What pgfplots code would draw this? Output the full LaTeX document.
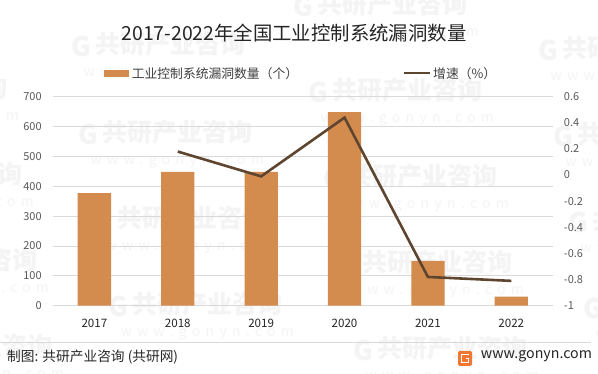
\documentclass[border=0pt]{standalone}
\usepackage{fontspec}
\setmainfont{Noto Sans CJK SC}
\newfontfamily\wmspaced[LetterSpace=38]{Noto Sans CJK SC}
\usepackage{pgfplots}
\pgfplotsset{compat=1.18}
\definecolor{barc}{RGB}{212,139,78}
\definecolor{linec}{RGB}{94,69,48}
\definecolor{gridc}{RGB}{217,217,217}
\definecolor{tickc}{RGB}{89,89,89}
\definecolor{wm}{RGB}{244,244,244}
\definecolor{logoc}{RGB}{240,120,50}
\definecolor{txt}{RGB}{38,38,38}
\begin{document}
\begin{tikzpicture}[x=1pt,y=1pt]
\useasboundingbox (0,0) rectangle (598,374);
\fill[white] (0,0) rectangle (598,374);
% watermarks (positions in px from top-left, converted)
\begin{scope}
\clip (0,0) rectangle (598,374);
\foreach \px/\py in {-78/74, -63/160, -48/246, -33/332,
                     160/30, 167/118, 182/204, 197/290, 212/376,
                     382/-10, 397/76, 412/162, 427/248, 442/334,
                     627/34, 642/120, 657/206, 672/292} {
  \begin{scope}[shift={(\px,374-\py)}, rotate=12]
    \node[text=wm, font=\fontsize{27}{27}\selectfont\bfseries, inner sep=0pt] at (-80,0) {G};
    \node[text=wm, font=\fontsize{25}{25}\selectfont\bfseries, inner sep=0pt, anchor=west] at (-66,0) {共研产业咨询};
    \node[text=wm, font=\fontsize{14}{14}\selectfont\wmspaced, inner sep=0pt, anchor=west] at (-84,-27) {www.gonyn.com};
  \end{scope}
}
\end{scope}
% title
\node[font=\fontsize{19.4}{19.4}\selectfont, text=txt] at (294,340.7) {2017-2022年全国工业控制系统漏洞数量};
% legend
\fill[barc] (104,297.2) rectangle (128.5,304.2);
\node[anchor=west, font=\fontsize{12.8}{12.8}\selectfont, text={rgb,255:red,64;green,64;blue,64}, inner sep=0pt] at (131.6,300.7) {工业控制系统漏洞数量（个）};
\draw[linec, line width=2.4pt] (404,300.7) -- (430,300.7);
\node[anchor=west, font=\fontsize{12.8}{12.8}\selectfont, text={rgb,255:red,64;green,64;blue,64}, inner sep=0pt] at (433,300.7) {增速（\%）};
\begin{axis}[
  at={(52.7pt,68.3pt)}, anchor=south west,
  scale only axis, width=500.3pt, height=209pt,
  xmin=-0.5, xmax=5.5, ymin=0, ymax=700,
  axis line style={draw=none},
  ytick={0,100,...,700},
  xtick={0,...,5},
  xticklabels={2017,2018,2019,2020,2021,2022},
  major tick length=0pt,
  ymajorgrids, grid style={gridc, line width=0.8pt},
  yticklabel style={font=\fontsize{11}{11}\selectfont, text=tickc, anchor=east, xshift=-7.5pt},
  xticklabel style={font=\fontsize{11.6}{11.6}\selectfont, text=txt, yshift=-10pt},
  /pgf/number format/assume math mode=true,
  clip=false,
]
\addplot[ybar, bar width=33.3pt, fill=barc, draw=none] coordinates {(0,377) (1,448) (2,448) (3,648) (4,150) (5,30)};
\end{axis}
\begin{axis}[
  at={(52.7pt,68.3pt)}, anchor=south west,
  scale only axis, width=500.3pt, height=209pt,
  xmin=-0.5, xmax=5.5, ymin=-1, ymax=0.6,
  axis line style={draw=none},
  axis y line*=right,
  xtick=\empty,
  ytick={-1,-0.8,-0.6,-0.4,-0.2,0,0.2,0.4,0.6},
  yticklabels={-1,-0.8,-0.6,-0.4,-0.2,0,0.2,0.4,0.6},
  major tick length=0pt,
  yticklabel style={font=\fontsize{11}{11}\selectfont, text=tickc, anchor=west, xshift=7.4pt},
  clip=false,
]
\addplot[linec, line width=2.6pt, no marks] coordinates {(1,0.18) (2,-0.01) (3,0.44) (4,-0.78) (5,-0.81)};
\end{axis}
% footer
\draw[gridc, line width=0.7pt] (0,31.7) -- (591,31.7);
\node[anchor=west, font=\fontsize{13.7}{13.7}\selectfont, text=txt, inner sep=0pt] at (7,17) {制图: 共研产业咨询 (共研网)};
\fill[logoc, rounded corners=1.5pt] (458,8) rectangle (472,23);
\draw[white, line width=1.8pt] (468.5,19.5) -- (461.5,19.5) -- (461.5,11.5) -- (468.5,11.5) -- (468.5,15.5) -- (465.5,15.5);
\node[anchor=west, font=\fontsize{14.2}{14.2}\selectfont, text=txt, inner sep=0pt] at (480.7,17.5) {www.gonyn.com};
\end{tikzpicture}
\end{document}
